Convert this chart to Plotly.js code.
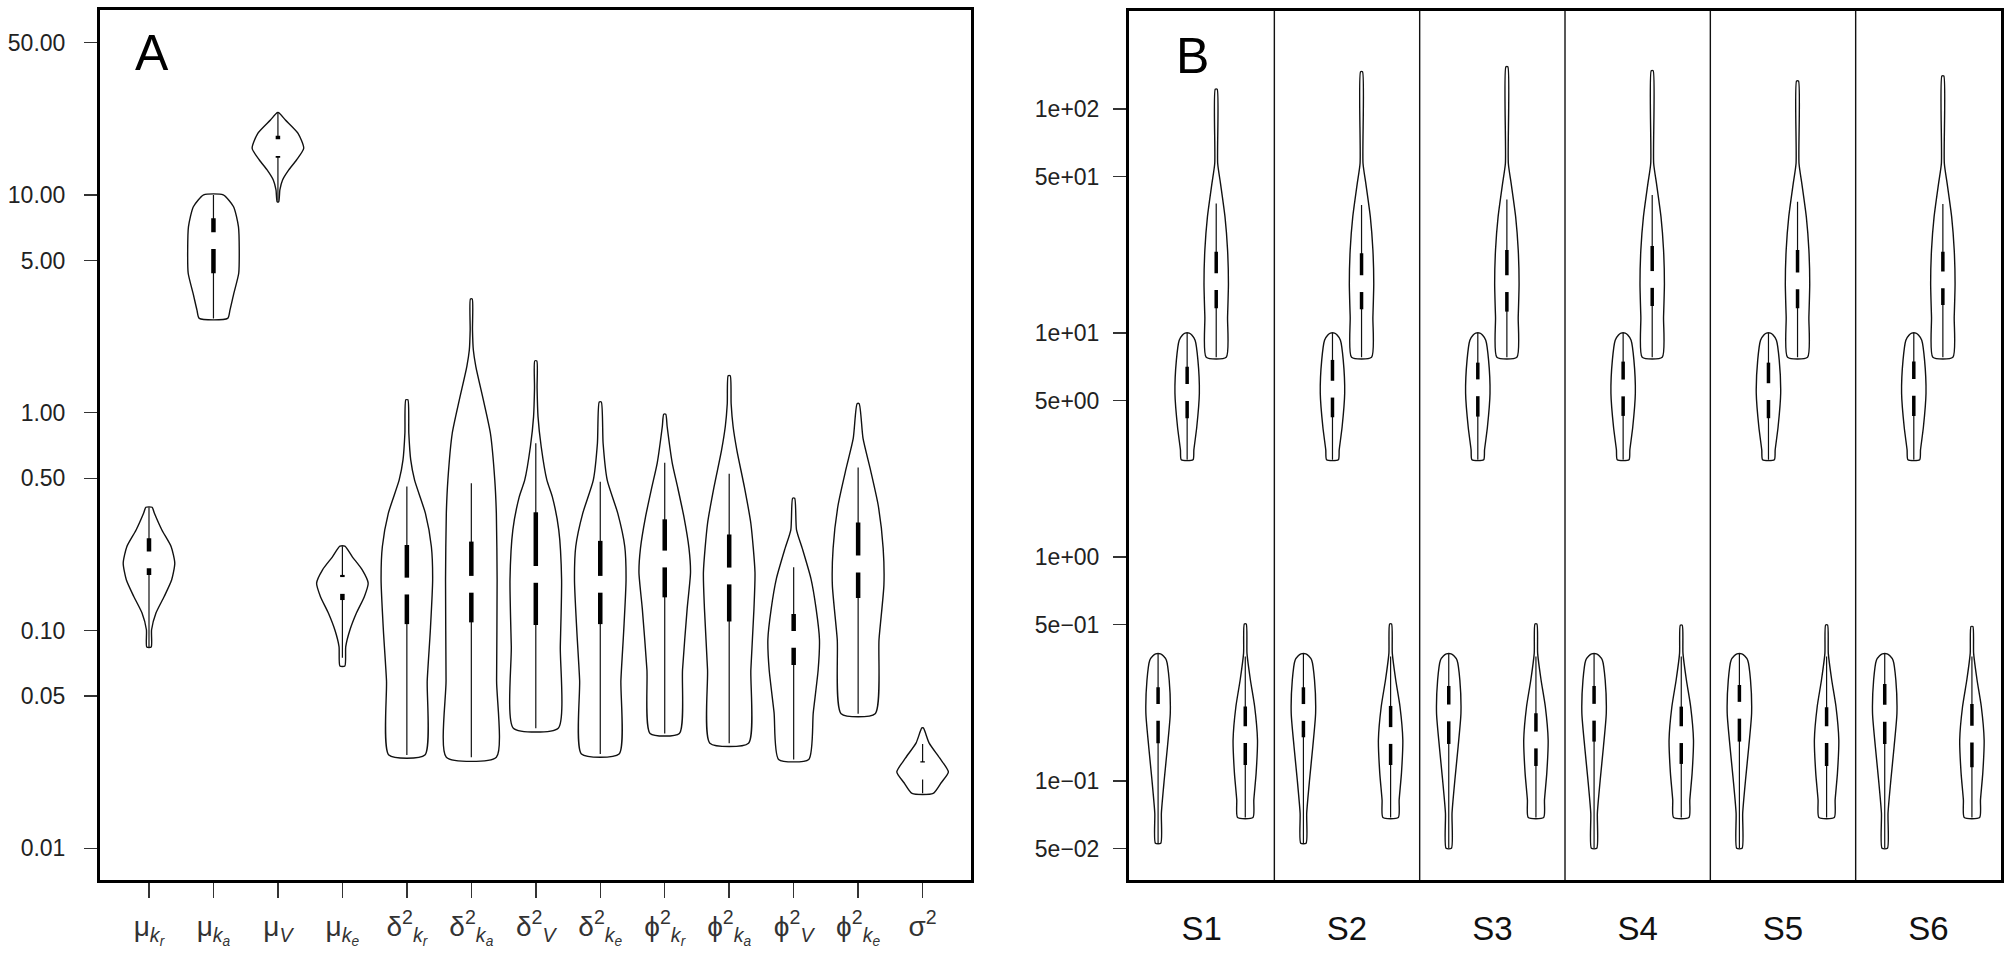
<!DOCTYPE html>
<html><head><meta charset="utf-8">
<script src="https://cdn.plot.ly/plotly-3.0.1.min.js"></script>
<style>html,body{margin:0;padding:0;background:#fff}#chart{width:2010px;height:955px}</style>
</head><body><div id="chart"></div>
<script>
// ---------------- Panel A : population parameters ----------------
const paramLabelsA = [
  "μ<sub><i>k<sub>r</sub></i></sub>", "μ<sub><i>k<sub>a</sub></i></sub>", "μ<sub><i>V</i></sub>", "μ<sub><i>k<sub>e</sub></i></sub>",
  "δ<sup>2</sup><sub><i>k<sub>r</sub></i></sub>", "δ<sup>2</sup><sub><i>k<sub>a</sub></i></sub>", "δ<sup>2</sup><sub><i>V</i></sub>", "δ<sup>2</sup><sub><i>k<sub>e</sub></i></sub>",
  "ϕ<sup>2</sup><sub><i>k<sub>r</sub></i></sub>", "ϕ<sup>2</sup><sub><i>k<sub>a</sub></i></sub>", "ϕ<sup>2</sup><sub><i>V</i></sub>", "ϕ<sup>2</sup><sub><i>k<sub>e</sub></i></sub>",
  "σ<sup>2</sup>"
];
// violin density profiles (levels bottom->top, relative density)
const muKr_y = [0.0839, 0.1008, 0.1203, 0.1433, 0.171, 0.204, 0.2427, 0.2894, 0.3453, 0.368];
const muKr_d = [0.085, 0.10, 0.27, 0.59, 0.88, 1.0, 0.86, 0.50, 0.21, 0.12];
const muKa_y = [2.71, 2.96, 3.53, 4.37, 5.58, 7.14, 8.83, 10.0];
const muKa_d = [0.55, 0.64, 0.79, 0.98, 1.0, 0.97, 0.78, 0.38];
const muV_y  = [9.31, 10.54, 11.71, 13.02, 14.47, 16.38, 19.19, 22.09, 23.87];
const muV_d  = [0.03, 0.075, 0.18, 0.42, 0.72, 1.0, 0.78, 0.29, 0.03];
const muKe_y = [0.0687, 0.0843, 0.1, 0.12, 0.143, 0.165, 0.19, 0.218, 0.244];
const muKe_d = [0.096, 0.13, 0.285, 0.54, 0.85, 1.0, 0.77, 0.385, 0.096];
const d2Kr_y = [0.0268, 0.059, 0.1, 0.171, 0.243, 0.345, 0.49, 0.607, 0.805, 1.146];
const d2Kr_d = [0.70, 0.79, 0.91, 1.0, 0.95, 0.72, 0.30, 0.15, 0.076, 0.04];
const d2Ka_y = [0.0262, 0.059, 0.171, 0.345, 0.49, 0.805, 1.14, 1.63, 1.94, 2.4, 3.33];
const d2Ka_d = [0.97, 0.98, 1.0, 0.97, 0.91, 0.74, 0.47, 0.175, 0.078, 0.045, 0.035];
const d2V_y  = [0.0356, 0.0843, 0.171, 0.29, 0.412, 0.49, 0.698, 0.96, 1.3, 1.73];
const d2V_d  = [0.87, 0.95, 1.0, 0.89, 0.64, 0.43, 0.21, 0.086, 0.05, 0.04];
const d2Ke_y = [0.0271, 0.059, 0.1, 0.171, 0.243, 0.345, 0.49, 0.724, 1.12];
const d2Ke_d = [0.73, 0.80, 0.91, 1.0, 0.95, 0.68, 0.27, 0.11, 0.04];
const p2Kr_y = [0.0337, 0.066, 0.126, 0.185, 0.239, 0.33, 0.455, 0.589, 0.867, 0.984];
const p2Kr_d = [0.57, 0.69, 0.87, 1.0, 0.94, 0.75, 0.50, 0.29, 0.093, 0.04];
const p2Ka_y = [0.0304, 0.066, 0.126, 0.185, 0.31, 0.455, 0.67, 0.867, 1.1, 1.48];
const p2Ka_d = [0.75, 0.84, 0.96, 1.0, 0.84, 0.59, 0.30, 0.15, 0.075, 0.04];
const p2V_y  = [0.0256, 0.042, 0.066, 0.091, 0.126, 0.173, 0.239, 0.29, 0.405];
const p2V_d  = [0.585, 0.76, 0.95, 1.0, 0.87, 0.67, 0.33, 0.11, 0.04];
const p2Ke_y = [0.0415, 0.091, 0.162, 0.239, 0.375, 0.552, 0.762, 1.10];
const p2Ke_d = [0.66, 0.81, 1.0, 0.97, 0.78, 0.47, 0.19, 0.04];
const sig2_y = [0.01786, 0.02, 0.0224, 0.026, 0.0305, 0.0357];
const sig2_d = [0.41, 0.72, 1.0, 0.66, 0.25, 0.03];
// box-plot statistics, same order as paramLabelsA
const boxQ1A   = [0.180, 4.37, 14.8, 0.138, 0.107, 0.109, 0.106, 0.107, 0.142, 0.110, 0.0695, 0.141, 0.0221];
const boxMedA  = [0.211, 6.17, 16.5, 0.161, 0.160, 0.163, 0.181, 0.163, 0.213, 0.178, 0.091, 0.202, 0.02265];
const boxQ3A   = [0.265, 7.82, 18.7, 0.180, 0.247, 0.256, 0.349, 0.258, 0.324, 0.276, 0.119, 0.313, 0.0251];
const whiskLoA = [0.0839, 2.71, 9.4, 0.075, 0.0268, 0.0262, 0.0356, 0.0271, 0.0337, 0.0304, 0.0256, 0.0415, 0.0179];
const whiskHiA = [0.368, 10.0, 23.8, 0.244, 0.458, 0.474, 0.724, 0.482, 0.589, 0.525, 0.195, 0.56, 0.0301];
const yTickValsA = [0.01, 0.05, 0.1, 0.5, 1, 5, 10, 50];
const yTickTextA = ["0.01", "0.05", "0.10", "0.50", "1.00", "5.00", "10.00", "50.00"];

// ---------------- Panel B : individual parameters ----------------
const subjects = ["S1", "S2", "S3", "S4", "S5", "S6"];
// k_r
const krB_bottom = [0.0529, 0.0529, 0.0502, 0.0502, 0.0502, 0.0502];
const krB_y = [0.072, 0.101, 0.143, 0.201, 0.283, 0.347, 0.362, 0.370];
const krB_d = [0.22, 0.27, 0.50, 0.77, 1.0, 0.91, 0.68, 0.44, 0.2];
const krQ1  = [0.1477, 0.1571, 0.1467, 0.1503, 0.1503, 0.1467];
const krMed = [0.2028, 0.2028, 0.2018, 0.2032, 0.2074, 0.2011];
const krQ3  = [0.2626, 0.2626, 0.2662, 0.2662, 0.2689, 0.2717];
// k_a
const kaB_y = [2.72, 3.01, 3.82, 5.39, 7.59, 9.3, 9.8, 10.0];
const kaB_d = [0.48, 0.55, 0.79, 1.0, 0.88, 0.65, 0.38, 0.17];
const kaQ1  = [4.17, 4.21, 4.24, 4.27, 4.17, 4.27];
const kaMed = [5.43, 5.62, 5.70, 5.69, 5.48, 5.72];
const kaQ3  = [7.08, 7.59, 7.38, 7.46, 7.38, 7.46];
// V
const vB_y = [7.8, 11.8, 16.7, 23.5, 33.0, 46.6, 57.3];
const vB_d = [0.82, 0.93, 1.0, 0.93, 0.72, 0.35, 0.12, 0.08];
const vB_top = [122.5, 146.8, 154.4, 148.3, 133.4, 140.3];
const vQ1  = [12.90, 12.77, 12.47, 13.21, 12.90, 13.35];
const vMed = [16.96, 16.62, 16.62, 17.35, 17.11, 17.26];
const vQ3  = [23.09, 22.70, 23.49, 24.47, 23.49, 23.09];
const vWhiskHi = [37.9, 37.3, 39.5, 41.3, 38.6, 37.7];
// k_e
const keB_y = [0.0689, 0.0826, 0.109, 0.153, 0.215, 0.283, 0.372];
const keB_d = [0.63, 0.70, 0.89, 1.0, 0.77, 0.42, 0.14, 0.08];
const keB_top = [0.503, 0.503, 0.503, 0.497, 0.498, 0.490];
const keQ1  = [0.1182, 0.1182, 0.1170, 0.1195, 0.1170, 0.1154];
const keMed = [0.1614, 0.1600, 0.1528, 0.1614, 0.1614, 0.1623];
const keQ3  = [0.2153, 0.2168, 0.2011, 0.2153, 0.2138, 0.2213];
const keWhiskHi = [0.36, 0.36, 0.36, 0.36, 0.36, 0.36];
const yTickValsB = [0.05, 0.1, 0.5, 1, 5, 10, 50, 100];
const yTickTextB = ["5e\u221202", "1e\u221201", "5e\u221201", "1e+00", "5e+00", "1e+01", "5e+01", "1e+02"];

// ---------------- drawing ----------------
const FONT = "Liberation Sans, Arial, Helvetica, sans-serif";
const INK = "#111";
const traces = [];

function outline(pos, ys, ds, half, xa, ya) {
  const left = ys.map((y, i) => pos - ds[i] * half);
  const right = ys.map((y, i) => pos + ds[i] * half);
  traces.push({
    type: "scatter", mode: "lines", xaxis: xa, yaxis: ya, hoverinfo: "skip",
    x: left.concat(right.slice().reverse(), [left[0]]),
    y: ys.concat(ys.slice().reverse(), [ys[0]]),
    line: {color: INK, width: 1.4, shape: "spline", smoothing: 0.6}
  });
}
function boxes(pos, lo, hi, q1, q3, med, xa, ya, boxW) {
  const wx = [], wy = [], bx = [], by = [];
  pos.forEach((p, i) => {
    wx.push(p, p, null); wy.push(lo[i], hi[i], null);
    bx.push(p, p, null); by.push(q1[i], q3[i], null);
  });
  traces.push({type: "scatter", mode: "lines", xaxis: xa, yaxis: ya, hoverinfo: "skip",
    x: wx, y: wy, line: {color: INK, width: 1.2}});
  traces.push({type: "scatter", mode: "lines", xaxis: xa, yaxis: ya, hoverinfo: "skip",
    x: bx, y: by, line: {color: "#000", width: boxW}});
  traces.push({type: "scatter", mode: "markers", xaxis: xa, yaxis: ya, hoverinfo: "skip",
    x: pos, y: med,
    marker: {symbol: "line-ns", size: 12, color: "#fff", line: {color: "#fff", width: boxW + 2}}});
}

// Panel A
const profilesA = [[muKr_y, muKr_d], [muKa_y, muKa_d], [muV_y, muV_d], [muKe_y, muKe_d],
  [d2Kr_y, d2Kr_d], [d2Ka_y, d2Ka_d], [d2V_y, d2V_d], [d2Ke_y, d2Ke_d],
  [p2Kr_y, p2Kr_d], [p2Ka_y, p2Ka_d], [p2V_y, p2V_d], [p2Ke_y, p2Ke_d], [sig2_y, sig2_d]];
const HALF_A = 0.4;
const posA = paramLabelsA.map((_, i) => i);
profilesA.forEach((p, i) => outline(posA[i], p[0], p[1], HALF_A, "x", "y"));
boxes(posA, whiskLoA, whiskHiA, boxQ1A, boxQ3A, boxMedA, "x", "y", 4.5);

// Panel B
const HALF_B = 0.42;
const nPar = 4, slot = nPar + 1;
const posKr = subjects.map((_, j) => j * slot + 1);
const posKa = subjects.map((_, j) => j * slot + 2);
const posV  = subjects.map((_, j) => j * slot + 3);
const posKe = subjects.map((_, j) => j * slot + 4);
subjects.forEach((s, j) => {
  outline(posKr[j], [krB_bottom[j]].concat(krB_y), krB_d, HALF_B, "x2", "y2");
  outline(posKa[j], kaB_y, kaB_d, HALF_B, "x2", "y2");
  outline(posV[j], vB_y.concat([vB_top[j]]), vB_d, HALF_B, "x2", "y2");
  outline(posKe[j], keB_y.concat([keB_top[j]]), keB_d, HALF_B, "x2", "y2");
});
boxes(posKr, krB_bottom, subjects.map(() => krB_y[krB_y.length - 1]), krQ1, krQ3, krMed, "x2", "y2", 3.5);
boxes(posKa, subjects.map(() => kaB_y[0]), subjects.map(() => kaB_y[kaB_y.length - 1]), kaQ1, kaQ3, kaMed, "x2", "y2", 3.5);
boxes(posV, subjects.map(() => vB_y[0]), vWhiskHi, vQ1, vQ3, vMed, "x2", "y2", 3.5);
boxes(posKe, subjects.map(() => keB_y[0]), keWhiskHi, keQ1, keQ3, keMed, "x2", "y2", 3.5);

// subject dividers
const shapes = subjects.slice(1).map((_, j) => ({
  type: "line", xref: "x2", yref: "y2 domain", x0: (j + 1) * slot, x1: (j + 1) * slot, y0: 0, y1: 1,
  line: {color: INK, width: 1.4}
}));

const axisCommon = {showgrid: false, zeroline: false, showline: true, mirror: true, linewidth: 3, linecolor: "#000",
  tickcolor: "#333", tickwidth: 1.5, tickfont: {family: FONT, size: 23, color: "#222"}};

const layout = {
  width: 2010, height: 955, margin: {l: 0, r: 0, t: 0, b: 0},
  paper_bgcolor: "#fff", plot_bgcolor: "#fff", showlegend: false, hovermode: false,
  font: {family: FONT, color: "#222"},
  xaxis: Object.assign({}, axisCommon, {domain: [0.04975, 0.4829], range: [-0.76, 12.745],
    tickmode: "array", tickvals: posA, ticktext: paramLabelsA, ticks: "outside", ticklen: 15,
    ticklabelstandoff: 4, tickfont: {family: FONT, size: 28, color: "#333"}, anchor: "y"}),
  yaxis: Object.assign({}, axisCommon, {type: "log", domain: [0.0782, 0.9895], range: [-2.147, 1.849],
    tickmode: "array", tickvals: yTickValsA, ticktext: yTickTextA, ticks: "outside", ticklen: 13,
    ticklabelstandoff: 14, anchor: "x"}),
  xaxis2: Object.assign({}, axisCommon, {domain: [0.5617, 0.99552], range: [0, subjects.length * slot],
    tickmode: "array", tickvals: subjects.map((_, j) => j * slot + slot / 2), ticktext: subjects, ticks: "",
    ticklabelstandoff: 17, tickfont: {family: FONT, size: 33, color: "#111"}, anchor: "y2"}),
  yaxis2: Object.assign({}, axisCommon, {type: "log", domain: [0.07853, 0.9888], range: [-1.4407, 2.4387],
    tickmode: "array", tickvals: yTickValsB, ticktext: yTickTextB, ticks: "outside", ticklen: 13,
    ticklabelstandoff: 9, anchor: "x2"}),
  shapes: shapes,
  annotations: [
    {text: "A", xref: "paper", yref: "paper", x: 0.0662, y: 0.944, xanchor: "left", yanchor: "middle",
     showarrow: false, font: {family: FONT, size: 50, color: "#000"}},
    {text: "B", xref: "paper", yref: "paper", x: 0.5841, y: 0.9414, xanchor: "left", yanchor: "middle",
     showarrow: false, font: {family: FONT, size: 50, color: "#000"}}
  ]
};

Plotly.newPlot("chart", traces, layout, {staticPlot: true, displayModeBar: false});
</script>
</body></html>
